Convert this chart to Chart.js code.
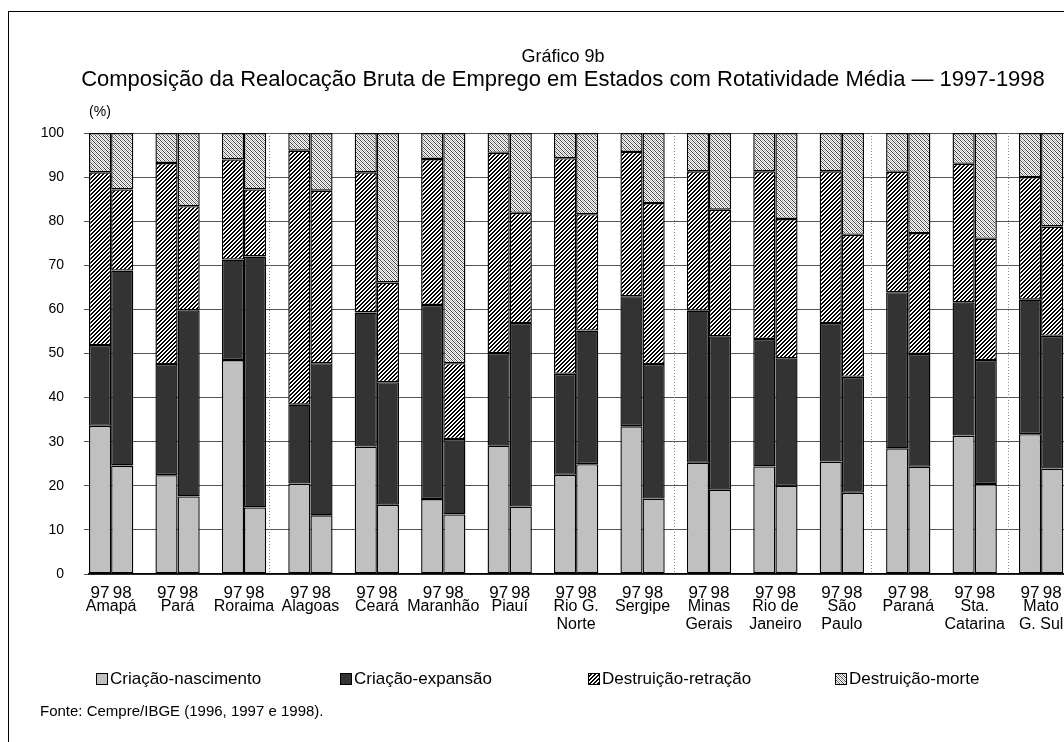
<!DOCTYPE html>
<html><head><meta charset="utf-8">
<script src="https://cdn.jsdelivr.net/npm/chart.js@4.4.1/dist/chart.umd.min.js"></script>
<style>
html,body{margin:0;padding:0;background:#fff;overflow:hidden;width:1064px;height:742px}
#wrap{position:absolute;left:0;top:0;width:1126px;height:760px}
#frame{position:absolute;left:8px;top:11px;width:1300px;height:900px;border:1px solid #000;pointer-events:none}
</style></head><body>
<div id="wrap"><canvas id="c" width="1126" height="760"></canvas></div>
<div id="frame"></div>
<script>
const FONT = '"Liberation Sans", Arial, sans-serif';
const titleLine1 = 'Gráfico 9b';
const titleLine2 = 'Composição da Realocação Bruta de Emprego em Estados com Rotatividade Média — 1997-1998';
const unitLabel = '(%)';
const sourceText = 'Fonte: Cempre/IBGE (1996, 1997 e 1998).';
const states = [['Amapá'],['Pará'],['Roraima'],['Alagoas'],['Ceará'],['Maranhão'],['Piauí'],['Rio G.','Norte'],['Sergipe'],['Minas','Gerais'],['Rio de','Janeiro'],['São','Paulo'],['Paraná'],['Sta.','Catarina'],['Mato','G. Sul']];
const years = ['97','98'];
const seriesNames = ['Criação-nascimento','Criação-expansão','Destruição-retração','Destruição-morte'];
// values (%) per state, 1997 and 1998
const nasc97 = [33.6,22.4,48.5,20.5,28.9,17.0,29.1,22.5,33.5,25.2,24.4,25.5,28.5,31.4,31.7];
const nasc98 = [24.6,17.6,15.1,13.3,15.7,13.5,15.3,24.9,17.1,19.1,20.0,18.4,24.3,20.4,23.9];
const exp97  = [18.3,25.2,22.8,17.9,30.4,44.0,21.0,22.9,29.5,34.5,28.9,31.4,35.4,30.2,30.5];
const exp98  = [44.2,42.2,56.9,34.5,27.8,17.1,41.6,30.3,30.5,34.8,28.9,26.3,25.6,28.1,30.1];
const retr97 = [39.2,45.6,22.7,57.6,31.8,33.1,45.4,48.9,32.7,31.6,38.0,34.4,27.3,31.4,27.8];
const retr98 = [18.4,23.6,15.2,39.1,22.6,17.2,25.0,26.4,36.5,28.7,31.6,32.2,27.4,27.5,24.8];
const mort97 = [8.9,6.8,6.0,4.0,8.9,5.9,4.5,5.7,4.3,8.7,8.7,8.7,8.8,7.0,10.0];
const mort98 = [12.8,16.6,12.8,13.1,33.9,52.2,18.1,18.4,15.9,17.4,19.5,23.1,22.7,24.0,21.2];
const yTicks = [0,10,20,30,40,50,60,70,80,90,100];
// region separators: after these state indexes, offset inside the blank slot (slot units from its centre)
const sepAfter = [2,8,11,13];
const sepOffset = [-0.37,-0.07,-0.2,0];

// slots: 97, 98, blank for each state
const slotLabels = [];
states.forEach(()=>{ slotLabels.push(years[0], years[1], ''); });
function slots(a,b){ const out=[]; a.forEach((v,i)=>{ out.push(v, b[i], null); }); return out; }

function tile(w,h,fn){
  const c=document.createElement('canvas'); c.width=w; c.height=h;
  const x=c.getContext('2d'); const img=x.createImageData(w,h);
  for(let yy=0;yy<h;yy++)for(let xx=0;xx<w;xx++){
    const v=fn(xx,yy); const k=(yy*w+xx)*4;
    img.data[k]=v;img.data[k+1]=v;img.data[k+2]=v;img.data[k+3]=255;
  }
  x.putImageData(img,0,0);
  return document.getElementById('c').getContext('2d').createPattern(c,'repeat');
}
const hatchRetr = tile(4,4,(x,y)=>{ const m=(x+y)%4; return (m===0||m===1)?0:255; });
const hatchMorte = tile(4,4,(x,y)=>{ if((x+y)%2===1) return 255; return ((x-y+8)%4===0)?70:175; });
const fills = ['#c0c0c0','#333333',hatchRetr,hatchMorte];

const seriesData = [slots(nasc97,nasc98), slots(exp97,exp98), slots(retr97,retr98), slots(mort97,mort98)];
const datasets = seriesNames.map((n,i)=>({
  label:n, data:seriesData[i], backgroundColor:fills[i], borderColor:'#000', borderWidth:1.4,
  borderSkipped:false, barPercentage:1, categoryPercentage:1, inflateAmount:0
}));

const extras = {
  id:'extras',
  beforeDatasetsDraw(chart){
    const ctx=chart.ctx, xs=chart.scales.x, {top,bottom}=chart.chartArea;
    const pitch = xs.getPixelForValue(1)-xs.getPixelForValue(0);
    ctx.save(); ctx.strokeStyle='#888'; ctx.lineWidth=1; ctx.setLineDash([1,2]);
    sepAfter.forEach((s,i)=>{
      const x=Math.round(xs.getPixelForValue(s*3+2)+sepOffset[i]*pitch)+0.5;
      ctx.beginPath(); ctx.moveTo(x,top); ctx.lineTo(x,bottom); ctx.stroke();
    });
    ctx.restore();
  },
  afterDraw(chart){
    const ctx=chart.ctx, xs=chart.scales.x, ca=chart.chartArea;
    ctx.save(); ctx.fillStyle='#000'; ctx.textBaseline='middle';
    // title
    ctx.textAlign='center'; ctx.font='18px '+FONT;
    ctx.fillText(titleLine1, chart.width/2, 57);
    ctx.font='22px '+FONT;
    ctx.fillText(titleLine2, chart.width/2, 80);
    ctx.font='14px '+FONT;
    ctx.fillText(unitLabel, ca.left+11, 112);
    // state names
    ctx.font='16px '+FONT;
    states.forEach((lines,i)=>{
      const x=(xs.getPixelForValue(i*3)+xs.getPixelForValue(i*3+1))/2;
      lines.forEach((t,j)=>ctx.fillText(t,x,ca.bottom+33+j*18));
    });
    // legend
    ctx.textAlign='left'; ctx.font='17px '+FONT;
    const lx=[96,340,588,835];
    seriesNames.forEach((n,i)=>{
      ctx.fillStyle=fills[i]; ctx.fillRect(lx[i],673,12,12);
      ctx.strokeStyle='#000'; ctx.lineWidth=1; ctx.strokeRect(lx[i]+0.5,673.5,11,11);
      ctx.fillStyle='#000'; ctx.fillText(n,lx[i]+14,679);
    });
    ctx.font='15px '+FONT;
    ctx.fillText(sourceText,40,712);
    ctx.restore();
  }
};

new Chart(document.getElementById('c'),{
  type:'bar',
  data:{labels:slotLabels, datasets},
  options:{
    responsive:false, animation:false, devicePixelRatio:1,
    layout:{padding:{left:0,right:1126-1085.4,top:133,bottom:0}},
    plugins:{legend:{display:false},title:{display:false},tooltip:{enabled:false}},
    scales:{
      x:{stacked:true, offset:true, grid:{display:false,drawTicks:false},
         border:{display:true,color:'#000',width:1.5},
         ticks:{autoSkip:false,maxRotation:0,minRotation:0,padding:9,color:'#000',font:{size:17,family:FONT}},
         afterFit(s){ s.height=760-574; }},
      y:{stacked:true, min:0, max:100, afterBuildTicks(s){ s.ticks=yTicks.map(v=>({value:v})); },
         ticks:{padding:20,color:'#000',font:{size:14,family:FONT}},
         grid:{color:'#555',lineWidth:1,tickLength:5,drawTicks:true},
         border:{display:false},
         afterFit(s){ s.width=89; }}
    }
  },
  plugins:[extras]
});
</script>
</body></html>
